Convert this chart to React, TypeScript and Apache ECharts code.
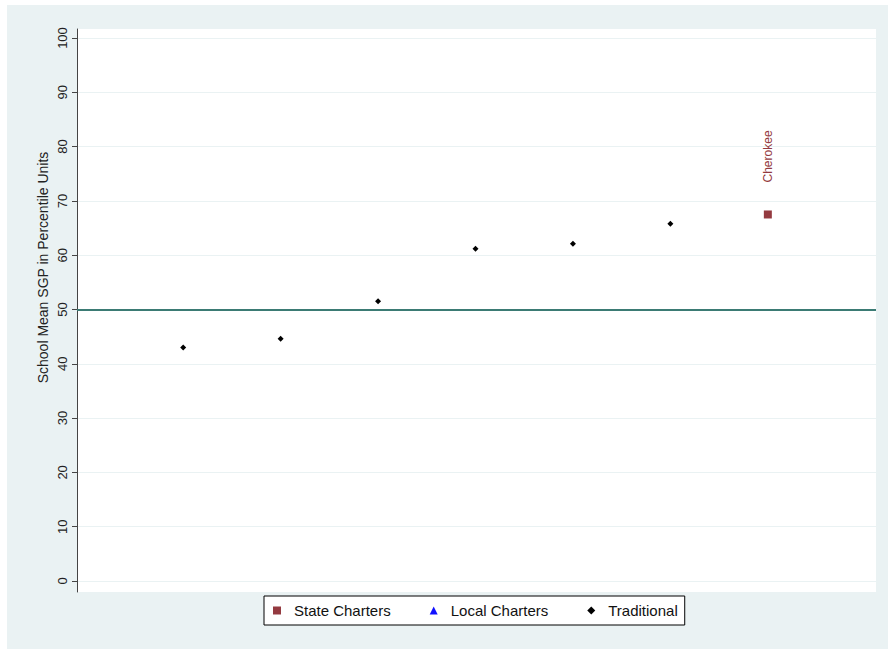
import React, { useEffect, useRef } from "react";
import * as echarts from "echarts";

const traditionalX = [1, 2, 3, 4, 5, 6];
const traditionalY = [43.0, 44.6, 51.5, 61.2, 62.1, 65.8];
const stateNames = ["Cherokee"];
const stateX = [7];
const stateY = [67.5];
const yTicks = [0, 10, 20, 30, 40, 50, 60, 70, 80, 90, 100];
const referenceY = 50;
const yTitle = "School Mean SGP in Percentile Units";
const legendNames = ["State Charters", "Local Charters", "Traditional"];

const MAROON = "#943a40";
const TEAL = "#3b7b74";
const BG = "#eaf2f3";

export default function App() {
  const ref = useRef<HTMLDivElement>(null);
  useEffect(() => {
    if (!ref.current) return;
    const chart = echarts.init(ref.current, null, { renderer: "svg" });
    const font = "Liberation Sans";
    chart.setOption({
      animation: false,
      backgroundColor: BG,
      textStyle: { fontFamily: font },
      grid: {
        left: 70,
        top: 24,
        right: 12,
        bottom: 57,
        show: true,
        backgroundColor: "#ffffff",
        borderWidth: 0,
        containLabel: false,
      },
      xAxis: {
        type: "value",
        min: -0.09,
        max: 8.11,
        show: false,
        splitLine: { show: false },
      },
      yAxis: {
        type: "value",
        min: -2.03,
        max: 101.66,
        name: yTitle,
        nameLocation: "middle",
        nameGap: 27,
        nameMoveOverlap: false,
        nameTextStyle: {
          fontSize: 14,
          color: "#222",
          fontFamily: font,
          padding: [0, 0, 0, 86],
        },
        axisLine: { show: true, onZero: false, lineStyle: { color: "#444", width: 1 } },
        axisTick: {
          show: true,
          length: 5,
          customValues: yTicks,
          lineStyle: { color: "#444" },
        },
        axisLabel: {
          customValues: yTicks,
          rotate: 90,
          margin: 8,
          fontSize: 13,
          color: "#222",
          fontFamily: font,
        },
        splitLine: { show: true, lineStyle: { color: BG, width: 1 } },
      },
      legend: {
        left: 257,
        top: 591,
        orient: "horizontal",
        padding: [7, 7, 7, 9],
        itemGap: 39,
        itemWidth: 8,
        itemHeight: 8,
        backgroundColor: "#ffffff",
        borderColor: "#000000",
        borderWidth: 1,
        borderRadius: 0,
        textStyle: { fontSize: 15, color: "#111", fontFamily: font, padding: [0, 0, 0, 8] },
        data: [
          { name: legendNames[0], icon: "rect" },
          { name: legendNames[1], icon: "triangle" },
          { name: legendNames[2], icon: "diamond" },
        ],
      },
      series: [
        {
          name: legendNames[0],
          type: "scatter",
          symbol: "rect",
          symbolSize: 8,
          itemStyle: { color: MAROON, opacity: 1 },
          data: stateX.map((x, i) => ({ name: stateNames[i], value: [x, stateY[i]] })),
          label: {
            show: true,
            formatter: "{b}",
            position: "top",
            distance: 28,
            rotate: 90,
            align: "left",
            verticalAlign: "middle",
            color: MAROON,
            fontSize: 12,
            fontFamily: font,
          },
          z: 5,
        },
        {
          name: legendNames[1],
          type: "scatter",
          symbol: "triangle",
          symbolSize: 5,
          itemStyle: { color: "#1010ff", opacity: 1 },
          data: [],
        },
        {
          name: legendNames[2],
          type: "scatter",
          symbol: "diamond",
          symbolSize: [6, 6],
          itemStyle: { color: "#000000", opacity: 1 },
          data: traditionalX.map((x, i) => [x, traditionalY[i]]),
          markLine: {
            silent: true,
            symbol: ["none", "none"],
            label: { show: false },
            lineStyle: { color: TEAL, width: 2, type: "solid" },
            data: [{ yAxis: referenceY }],
          },
          z: 5,
        },
      ],
    });
    return () => chart.dispose();
  }, []);
  return (
    <div style={{ position: "fixed", left: 0, top: 0, width: 888, height: 649, background: "#ffffff" }}>
      <div ref={ref} style={{ position: "absolute", left: 7, top: 5, width: 881, height: 644 }} />
    </div>
  );
}
